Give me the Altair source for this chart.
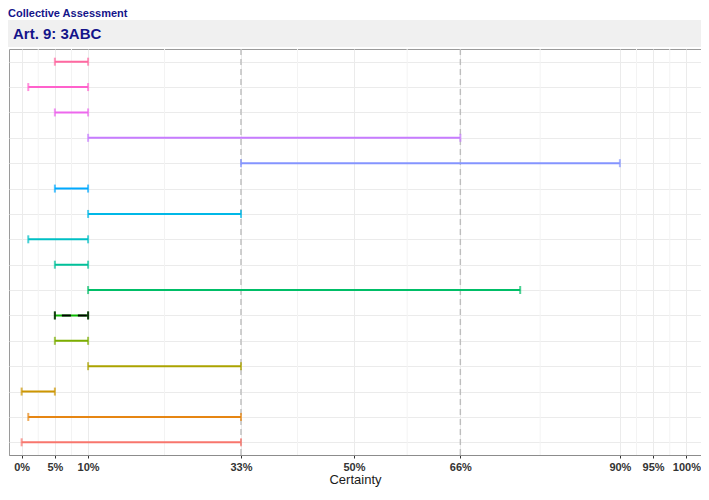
import altair as alt
import pandas as pd

# rows listed bottom -> top
rows = [f"r{i:02d}" for i in range(1, 17)]
lo = [0, 1, 0, 10, 5, 5, 10, 5, 1, 10, 5, 33, 10, 5, 1, 5]
hi = [33, 33, 5, 33, 10, 10, 75, 10, 10, 33, 10, 90, 66, 10, 10, 10]
colors = ["#F8766D", "#E68613", "#CD9600", "#ABA300", "#7CAE00", "#0CB702",
          "#00BE67", "#00C19A", "#00BFC4", "#00B8E7", "#00A9FF", "#8494FF",
          "#C77CFF", "#ED68ED", "#FF61CC", "#FF68A1"]
collective_row = ["r06"]
major_ticks = [0, 5, 10, 33, 50, 66, 90, 95, 100]
minor_ticks = [2.5, 7.5, 21.5, 41.5, 58, 78, 92.5, 97.5]
dashed = [33, 66]
title_text = "Collective Assessment"
strip_text = "Art. 9: 3ABC"

W, H = 692, 406
FONT = "Liberation Sans"
NAVY = "#14148A"

df = pd.DataFrame({"row": rows, "lo": lo, "hi": hi})
coll = df[df["row"].isin(collective_row)]

xscale = alt.Scale(domain=[-1.9, 102.2], nice=False, zero=False)
xaxis = alt.Axis(values=major_ticks, labelExpr="datum.value + '%'", title="Certainty",
                 grid=True, gridColor="#EBEBEB", gridWidth=1,
                 labelFontSize=11, labelFontWeight="bold", labelColor="#333333",
                 labelFont=FONT, labelPadding=3, tickSize=3, tickColor="#333333",
                 domainColor="#8C8C8C", titleFontSize=13, titleFontWeight="normal",
                 titleColor="#1A1A1A", titleFont=FONT, titlePadding=1)
yaxis = alt.Axis(labels=False, ticks=False, domain=False, title=None,
                 grid=True, gridColor="#EBEBEB", gridWidth=1)


def X(field):
    return alt.X(field, type="quantitative", scale=xscale, axis=xaxis)


def Y():
    return alt.Y("row:N", sort=rows[::-1], scale=alt.Scale(type="point", padding=0.5), axis=yaxis)


color = alt.Color("row:N", scale=alt.Scale(domain=rows, range=colors), legend=None)

one = pd.DataFrame({"t": [strip_text], "h": [title_text]})

strip = alt.Chart(one).mark_rect(color="#F0F0F0").encode(
    x=alt.value(-1), x2=alt.value(W + 1), y=alt.value(-29), y2=alt.value(-2))
strip_lbl = alt.Chart(one).mark_text(align="left", baseline="middle", fontSize=15,
                                     fontWeight="bold", color=NAVY, font=FONT).encode(
    x=alt.value(4), y=alt.value(-15), text="t:N")
head = alt.Chart(one).mark_text(align="left", baseline="alphabetic", fontSize=11,
                                fontWeight="bold", color=NAVY, font=FONT).encode(
    x=alt.value(-1), y=alt.value(-32), text="h:N")

minor = alt.Chart(pd.DataFrame({"v": minor_ticks})).mark_rule(
    color="#F3F3F3", strokeWidth=1).encode(x=X("v"))
dash = alt.Chart(pd.DataFrame({"v": dashed})).mark_rule(
    color="#BDBDBD", strokeWidth=1.4, strokeDash=[6, 4]).encode(x=X("v"))

bars = alt.Chart(df).mark_rule(strokeWidth=2).encode(x=X("lo"), x2="hi:Q", y=Y(), color=color)
cap_lo = alt.Chart(df).mark_tick(thickness=2, size=8).encode(x=X("lo"), y=Y(), color=color)
cap_hi = alt.Chart(df).mark_tick(thickness=2, size=8).encode(x=X("hi"), y=Y(), color=color)

coll_line = alt.Chart(coll).mark_rule(strokeWidth=2, color="black", strokeDash=[9, 7],
                                      strokeDashOffset=9).encode(x=X("lo"), x2="hi:Q", y=Y())
coll_lo = alt.Chart(coll).mark_tick(thickness=2, size=8, color="black").encode(x=X("lo"), y=Y())
coll_hi = alt.Chart(coll).mark_tick(thickness=2, size=8, color="black").encode(x=X("hi"), y=Y())

chart = alt.layer(strip, strip_lbl, head, minor, dash, bars, cap_lo, cap_hi,
                  coll_line, coll_lo, coll_hi).properties(
    width=W, height=H,
    autosize=alt.AutoSizeParams(type="none"),
    padding={"left": 1, "top": 41, "right": 0, "bottom": 36},
    background="white",
).configure_view(stroke="#9A9A9A", strokeWidth=1)

chart.save("out.html", embed_options={"renderer": "svg", "actions": False})
